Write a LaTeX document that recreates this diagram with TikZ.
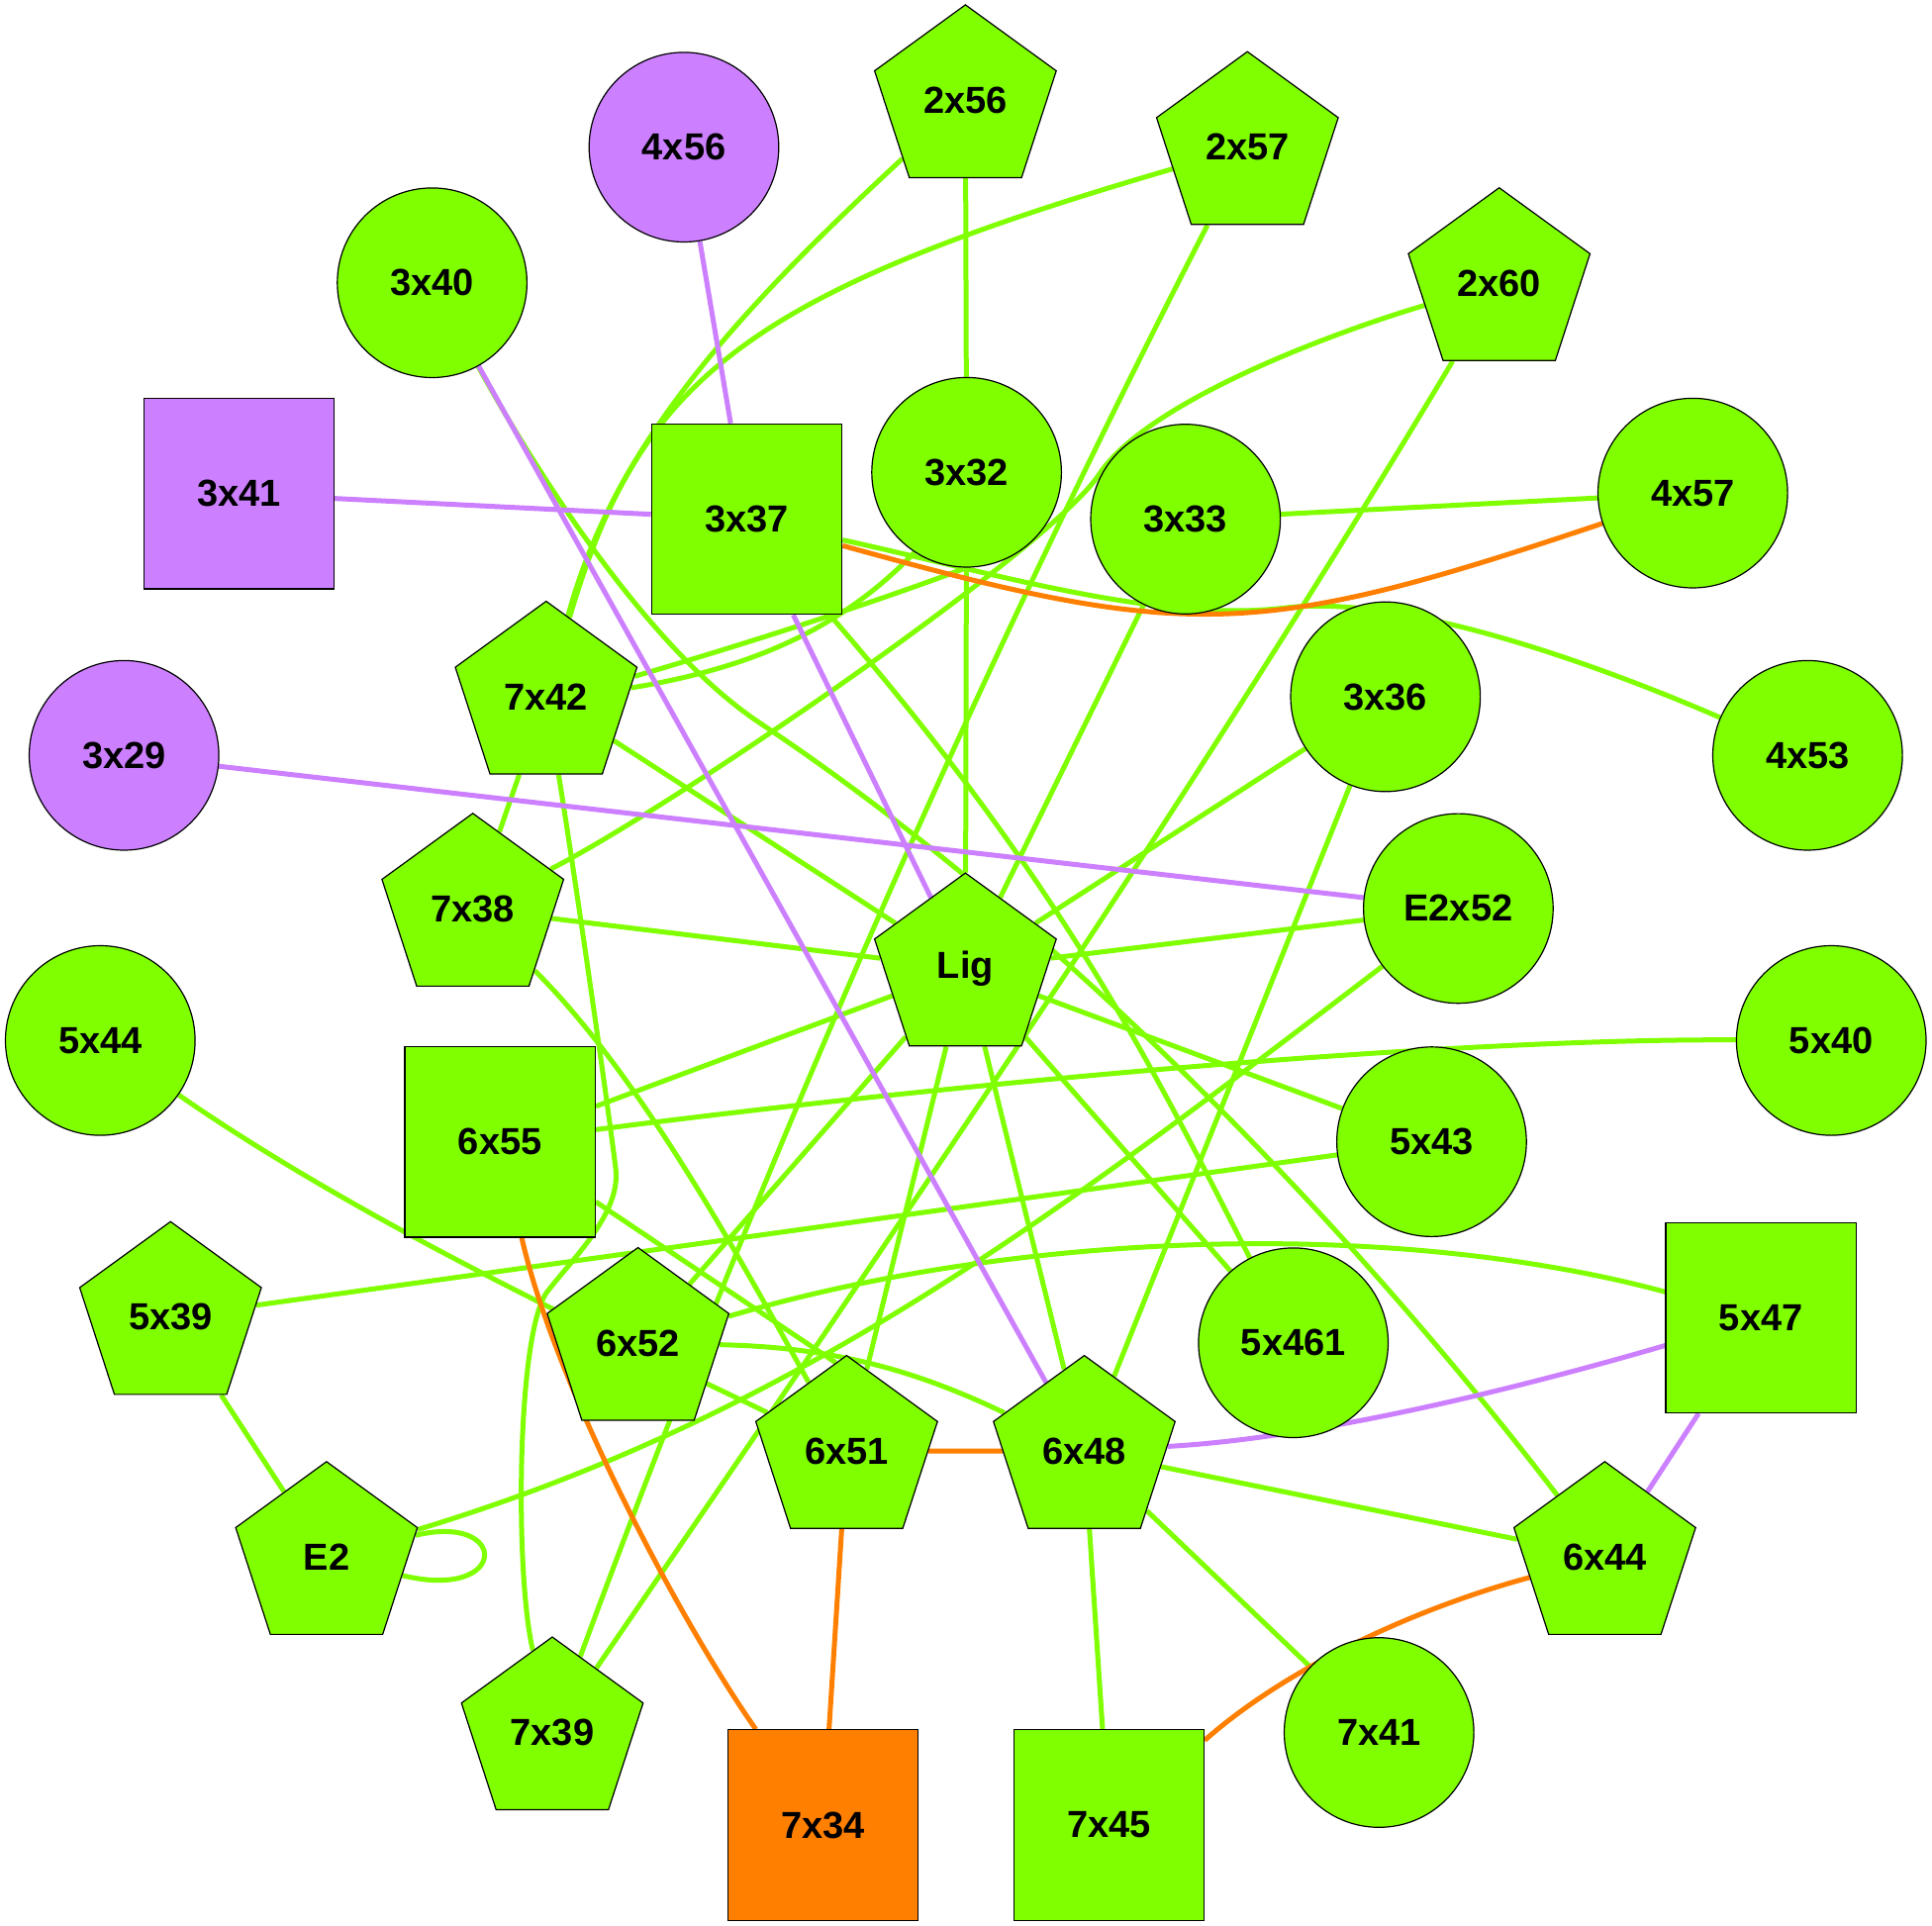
\documentclass[tikz,border=0pt]{standalone}
\usepackage{fontspec}
\setmainfont{Liberation Sans}
\usetikzlibrary{shapes.geometric, backgrounds}
\definecolor{chartr}{HTML}{7FFF00}
\definecolor{lilac}{HTML}{CC80FF}
\definecolor{tangerine}{HTML}{FF7F00}
\begin{document}
\begin{tikzpicture}[x=0.5pt, y=-0.5pt,
	every node/.style={draw=black, line width=0.6pt, inner sep=0pt, font=\fontsize{19}{22}\selectfont\bfseries},
	circ/.style={circle, minimum size=95.8pt},
	sq/.style={rectangle, minimum width=96.2pt, minimum height=96.2pt},
	pent/.style={regular polygon, regular polygon sides=5, minimum size=96.5pt},
	gedge/.style={draw=chartr, line width=2.5pt},
	pedge/.style={draw=lilac, line width=2.5pt},
	oedge/.style={draw=tangerine, line width=2.5pt}]
	\useasboundingbox (0,0) rectangle (1952,1946);
	\node[pent, fill=chartr] (n2x56) at (975.4,101.4) {2x56};
	\node[circ, fill=lilac] (n4x56) at (691,148.7) {4x56};
	\node[pent, fill=chartr] (n2x57) at (1260.3,148.7) {2x57};
	\node[circ, fill=chartr] (n3x40) at (436.6,285.7) {3x40};
	\node[pent, fill=chartr] (n2x60) at (1514.7,286.2) {2x60};
	\node[sq, fill=lilac] (n3x41) at (241.3,498.8) {3x41};
	\node[sq, fill=chartr] (n3x37) at (754.5,524.5) {3x37};
	\node[circ, fill=chartr] (n3x32) at (976.6,477.2) {3x32};
	\node[circ, fill=chartr] (n3x33) at (1197.8,524.5) {3x33};
	\node[circ, fill=chartr] (n4x57) at (1710.3,498.2) {4x57};
	\node[pent, fill=chartr] (n7x42) at (551.8,704) {7x42};
	\node[circ, fill=chartr] (n3x36) at (1399.8,704) {3x36};
	\node[circ, fill=chartr] (n4x53) at (1826.3,763.2) {4x53};
	\node[circ, fill=lilac] (n3x29) at (125.3,763.2) {3x29};
	\node[circ, fill=chartr] (nE2x52) at (1473.4,917.9) {E2x52};
	\node[pent, fill=chartr] (n7x38) at (477.7,918.3) {7x38};
	\node[pent, fill=chartr] (nLig) at (975.4,978.6) {Lig};
	\node[circ, fill=chartr] (n5x44) at (101.3,1051.3) {5x44};
	\node[circ, fill=chartr] (n5x40) at (1850.2,1051.3) {5x40};
	\node[sq, fill=chartr] (n6x55) at (505.2,1153.8) {6x55};
	\node[circ, fill=chartr] (n5x43) at (1446.4,1153.6) {5x43};
	\node[pent, fill=chartr] (n5x39) at (172.3,1330.8) {5x39};
	\node[pent, fill=chartr] (n6x52) at (644.6,1357) {6x52};
	\node[circ, fill=chartr] (n5x461) at (1306.7,1356.7) {5x461};
	\node[sq, fill=chartr] (n5x47) at (1779.2,1331.3) {5x47};
	\node[pent, fill=chartr] (n6x51) at (855.4,1466.1) {6x51};
	\node[pent, fill=chartr] (n6x48) at (1095.5,1466.1) {6x48};
	\node[pent, fill=chartr] (nE2) at (329.9,1573.3) {E2};
	\node[pent, fill=chartr] (n6x44) at (1621.4,1573.3) {6x44};
	\node[pent, fill=chartr] (n7x39) at (558,1750.5) {7x39};
	\node[sq, fill=tangerine] (n7x34) at (831.5,1844) {7x34};
	\node[sq, fill=chartr] (n7x45) at (1120.3,1844) {7x45};
	\node[circ, fill=chartr] (n7x41) at (1393.3,1750.5) {7x41};
	\begin{pgfonlayer}{background}
	\draw[gedge] (n2x56) -- (n3x32);
	\draw[gedge] (n2x56) .. controls (737,322) and (619,455) .. (n7x42);
	\draw[gedge] (n2x57) .. controls (750,297) and (646,385) .. (n7x42);
	\draw[gedge] (n2x57) .. controls (972,711) and (763,1194) .. (n7x39);
	\draw[gedge] (n2x60) .. controls (1350,335) and (1159,405) .. (1110,480) .. controls (1060,555) and (680,815) .. (n7x38);
	\draw[gedge] (n2x60) .. controls (1206,803) and (906,1242) .. (n7x39);
	\draw[gedge] (n3x32) -- (nLig);
	\draw[gedge] (n3x33) -- (n4x57);
	\draw[gedge] (n3x33) -- (nLig);
	\draw[gedge] (n3x37) .. controls (1000,578) and (1170,630) .. (1300,614) .. controls (1420,600) and (1620,674) .. (n4x53);
	\draw[gedge] (n3x37) .. controls (1080,900) and (1170,1090) .. (n5x461);
	\draw[gedge] (n3x40) .. controls (549,490) and (659,658) .. (767,730) .. controls (1100,952) and (1390,1272) .. (n6x44);
	\draw[gedge] (n7x42.13) .. controls (755,650) and (880,610) .. (n3x32.south);
	\draw[gedge] (n7x42.6) .. controls (760,675) and (850,635) .. (n3x32.-123);
	\draw[gedge] (n7x42) -- (n7x38);
	\draw[gedge] (n7x42) -- (nLig);
	\draw[gedge] (n7x42) .. controls (580,880) and (612,1100) .. (622,1180) .. controls (628,1225) and (580,1270) .. (553,1305) .. controls (522,1345) and (520,1590) .. (n7x39);
	\draw[gedge] (n7x38) -- (nLig);
	\draw[gedge] (n7x38) .. controls (647,1087) and (748,1272) .. (n6x51);
	\draw[gedge] (n3x36) -- (nLig);
	\draw[gedge] (n3x36) -- (n6x48);
	\draw[gedge] (nE2x52) -- (nLig);
	\draw[gedge] (nE2x52) .. controls (1077,1220) and (810,1428) .. (nE2);
	\draw[gedge] (n6x55) -- (nLig);
	\draw[gedge] (n5x40) .. controls (1454,1049) and (953,1096) .. (n6x55);
	\draw[gedge] (n6x55.-32) -- (n6x51.97);
	\draw[gedge] (n5x43) -- (nLig);
	\draw[gedge] (n5x43) -- (n5x39);
	\draw[gedge] (n5x44) .. controls (379,1244) and (649,1366) .. (n6x51);
	\draw[gedge] (n5x39) -- (nE2);
	\draw[gedge] (n6x52) -- (nLig);
	\draw[gedge] (n6x52) .. controls (843,1361) and (926,1385) .. (n6x48);
	\draw[gedge] (n5x47) .. controls (1403,1230) and (1024,1245) .. (n6x52);
	\draw[gedge] (n5x461) -- (nLig);
	\draw[gedge] (n6x51) -- (nLig);
	\draw[gedge] (n6x48) -- (nLig);
	\draw[gedge] (n6x48) -- (n6x44);
	\draw[gedge] (n6x48) -- (n7x41);
	\draw[gedge] (n6x48) -- (n7x45);
	\draw[gedge] (nE2) .. controls (515,1528) and (515,1618) .. (nE2);
	\draw[pedge] (n4x56) -- (n3x37);
	\draw[pedge] (n3x41) -- (n3x37);
	\draw[pedge] (n3x40) -- (n6x48);
	\draw[pedge] (n3x29) -- (nE2x52);
	\draw[pedge] (n3x37) -- (nLig);
	\draw[pedge] (n5x47) -- (n6x44);
	\draw[pedge] (n6x48) .. controls (1331,1453) and (1533,1403) .. (n5x47);
	\draw[oedge] (n3x37) .. controls (1200,648) and (1270,646) .. (n4x57);
	\draw[oedge] (n6x55) .. controls (561,1400) and (687,1638) .. (n7x34);
	\draw[oedge] (n6x51) -- (n6x48);
	\draw[oedge] (n6x51) -- (n7x34);
	\draw[oedge] (n6x44) .. controls (1430,1625) and (1300,1685) .. (n7x45);
	\end{pgfonlayer}
\end{tikzpicture}
\end{document}
